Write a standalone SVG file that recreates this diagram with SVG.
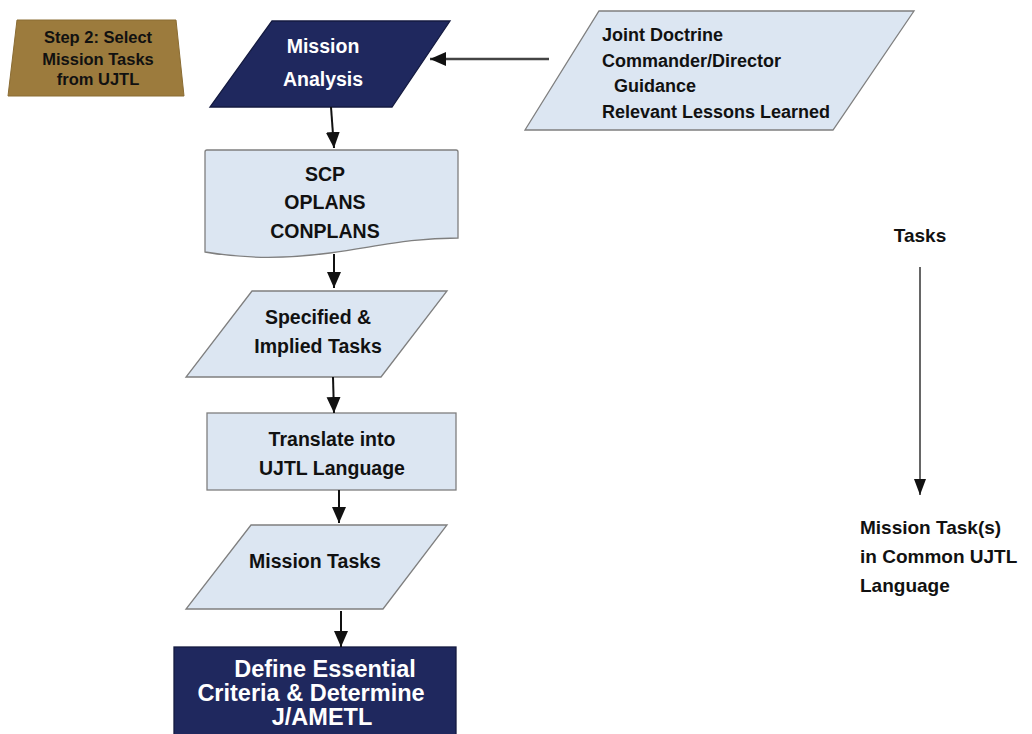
<svg xmlns="http://www.w3.org/2000/svg" width="1032" height="734" viewBox="0 0 1032 734">
  <defs>
    <marker id="arrow" markerUnits="userSpaceOnUse" markerWidth="16" markerHeight="16" viewBox="0 0 16 16" refX="16" refY="8" orient="auto">
      <path d="M0,1 L16,8 L0,15 Z" fill="#111"/>
    </marker>
    <marker id="arrowSmall" markerUnits="userSpaceOnUse" markerWidth="16" markerHeight="14" viewBox="0 0 16 14" refX="16" refY="7" orient="auto">
      <path d="M0,1 L16,7 L0,13 Z" fill="#111"/>
    </marker>
  </defs>
  <style>
    text { font-family: "Liberation Sans", Arial, sans-serif; font-weight: bold; }
    .light { fill: #dce6f2; stroke: #7f7f7f; stroke-width: 1.3; }
    .navy { fill: #1f285e; stroke: #141a40; stroke-width: 1.3; }
    .gold { fill: #9c7b3d; stroke: #8a6c33; stroke-width: 1; }
    .dark-t { fill: #111; font-size: 19.5px; text-anchor: middle; }
    .white-t { fill: #fff; text-anchor: middle; }
    .src-t { fill: #111; font-size: 18px; }
    .side-t { fill: #111; font-size: 19px; }
    .conn { stroke: #111; stroke-width: 2; fill: none; marker-end: url(#arrow); }
    .conn-gray { stroke: #444; stroke-width: 2.5; fill: none; marker-end: url(#arrow); }
    .conn-thin { stroke: #333; stroke-width: 1.5; fill: none; marker-end: url(#arrowSmall); }
  </style>

  <!-- Step label -->
  <g id="step-label">
    <path class="gold" d="M17,20 H176 L184,96 H8 Z"/>
    <text class="dark-t" style="font-size:16.5px" x="98" y="43">Step 2: Select</text>
    <text class="dark-t" style="font-size:16.5px" x="98" y="65">Mission Tasks</text>
    <text class="dark-t" style="font-size:16.5px" x="98" y="85">from UJTL</text>
  </g>

  <!-- Mission Analysis -->
  <g id="mission-analysis">
    <path class="navy" d="M272,21 H450 L392,107 H210 Z"/>
    <text class="white-t" style="font-size:19.5px" x="323" y="53">Mission</text>
    <text class="white-t" style="font-size:19.5px" x="323" y="86">Analysis</text>
  </g>

  <!-- Inputs -->
  <g id="inputs">
    <path class="light" d="M599,11 H914 L833,130 H525 Z"/>
    <text class="src-t" x="602" y="41">Joint Doctrine</text>
    <text class="src-t" x="602" y="67">Commander/Director</text>
    <text class="src-t" x="614" y="92">Guidance</text>
    <text class="src-t" x="602" y="118">Relevant Lessons Learned</text>
  </g>

  <!-- Plans document -->
  <g id="plans">
    <path class="light" d="M207,150 H456 Q458,150 458,152 V238 C410,238 380,246 330,253 C285,259 245,259 205,252 V152 Q205,150 207,150 Z"/>
    <text class="dark-t" x="325" y="181">SCP</text>
    <text class="dark-t" x="325" y="209">OPLANS</text>
    <text class="dark-t" x="325" y="238">CONPLANS</text>
  </g>

  <!-- Specified & Implied Tasks -->
  <g id="specified-tasks">
    <path class="light" d="M252,291 H447 L381,377 H186 Z"/>
    <text class="dark-t" x="318" y="324">Specified &amp;</text>
    <text class="dark-t" x="318" y="353">Implied Tasks</text>
  </g>

  <!-- Translate into UJTL Language -->
  <g id="translate">
    <rect class="light" x="207" y="413" width="249" height="77"/>
    <text class="dark-t" x="332" y="446">Translate into</text>
    <text class="dark-t" x="332" y="475">UJTL Language</text>
  </g>

  <!-- Mission Tasks -->
  <g id="mission-tasks">
    <path class="light" d="M251,525 H447 L383,609 H186 Z"/>
    <text class="dark-t" x="315" y="568">Mission Tasks</text>
  </g>

  <!-- Define Essential Criteria -->
  <g id="define-criteria">
    <rect class="navy" x="174" y="647" width="282" height="95"/>
    <text class="white-t" style="font-size:23.5px" x="325" y="677">Define Essential</text>
    <text class="white-t" style="font-size:23.5px" x="311" y="701">Criteria &amp; Determine</text>
    <text class="white-t" style="font-size:23.5px" x="322" y="725">J/AMETL</text>
  </g>

  <!-- Side summary -->
  <g id="side-tasks">
    <text class="side-t" x="920" y="242" text-anchor="middle">Tasks</text>
  </g>
  <g id="side-result">
    <text class="side-t" x="860" y="534">Mission Task(s)</text>
    <text class="side-t" x="860" y="563">in Common UJTL</text>
    <text class="side-t" x="860" y="592">Language</text>
  </g>

  <!-- Connectors -->
  <g id="connectors">
    <line class="conn-gray" x1="549" y1="59" x2="430" y2="59"/>
    <line class="conn" x1="331" y1="107" x2="334" y2="148"/>
    <line class="conn" x1="334" y1="254" x2="334" y2="288"/>
    <line class="conn" x1="333" y1="377" x2="334" y2="413"/>
    <line class="conn" x1="339" y1="490" x2="339" y2="523"/>
    <line class="conn" x1="341" y1="611" x2="341" y2="647"/>
    <line class="conn-thin" x1="920" y1="267" x2="920" y2="495"/>
  </g>
</svg>
